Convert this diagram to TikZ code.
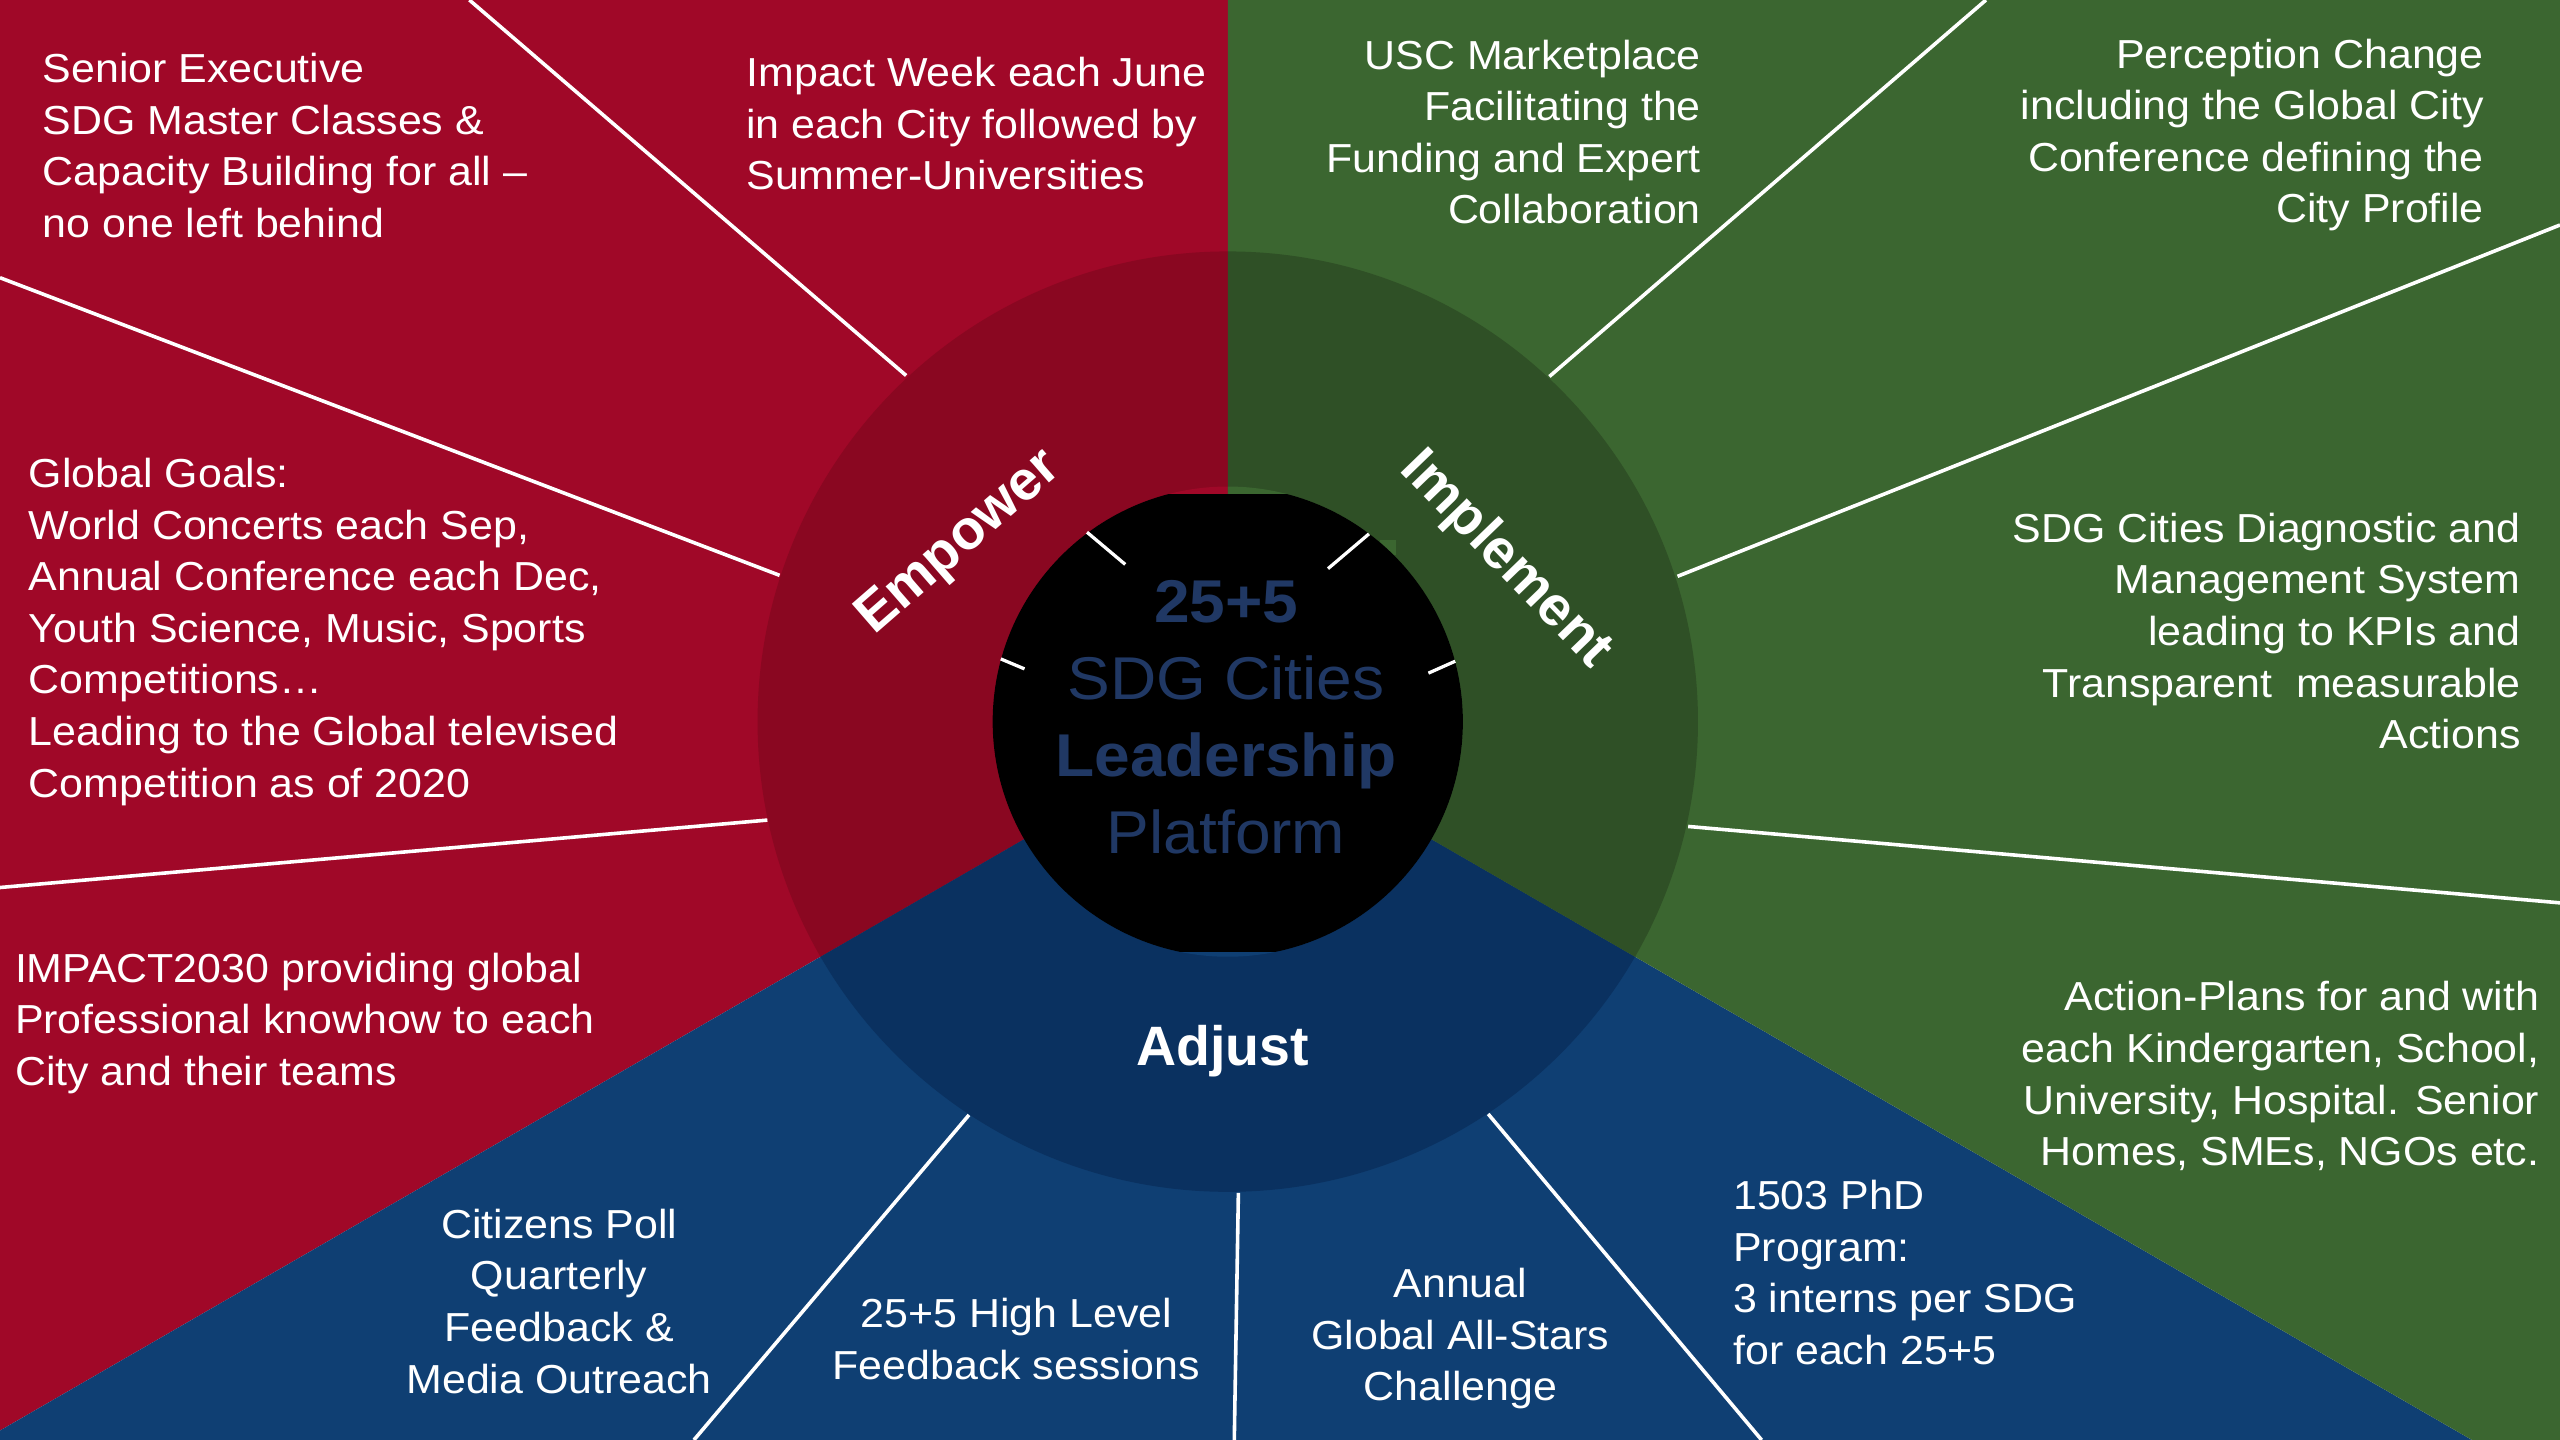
\documentclass[tikz,border=0pt]{standalone}
\usepackage{fontspec}
\setmainfont{Liberation Sans}
\newfontfamily\bodyfont[FakeStretch=1.06]{Liberation Sans}
\definecolor{redbg}{HTML}{A00828}
\definecolor{redring}{HTML}{8A0721}
\definecolor{greenbg}{HTML}{3B6630}
\definecolor{greenring}{HTML}{2F5026}
\definecolor{bluebg}{HTML}{0F3F73}
\definecolor{bluering}{HTML}{0A3160}
\definecolor{ctrblue}{HTML}{203864}
\tikzset{
  bodytext/.style={text=white, inner sep=0pt, font=\bodyfont\fontsize{24.8}{31.6}\selectfont},
  ringlabel/.style={text=white, inner sep=0pt, font=\fontsize{34}{40}\selectfont\bfseries},
  divider/.style={draw=white, line width=2.2pt},
  tickline/.style={draw=white, line width=2pt},
  ctrtext/.style={text=ctrblue, inner sep=0pt, align=center, font=\bodyfont\fontsize{37}{47.2}\selectfont}
}
\begin{document}
\begin{tikzpicture}[x=1pt,y=-1pt]
\useasboundingbox (0,0) rectangle (1568,882);
\coordinate (C) at (752,442);
% background sectors
\fill[redbg] (C) -- (752,0) -- (0,0) -- (0,876.2) -- cycle;
\fill[bluebg] (C) -- (0,876.2) -- (0,882) -- (1514.1,882) -- cycle;
\fill[greenbg] (C) -- (752,0) -- (1568,0) -- (1568,882) -- (1514.1,882) -- cycle;
% ring
\begin{scope}
  \clip (C) -- (752,0) -- (0,0) -- (0,876.2) -- cycle;
  \fill[redring] (C) circle[radius=288];
  \fill[redbg] (C) circle[radius=144];
\end{scope}
\begin{scope}
  \clip (C) -- (0,876.2) -- (0,882) -- (1514.1,882) -- cycle;
  \fill[bluering] (C) circle[radius=288];
  \fill[bluebg] (C) circle[radius=144];
\end{scope}
\begin{scope}
  \clip (C) -- (752,0) -- (1568,0) -- (1568,882) -- (1514.1,882) -- cycle;
  \fill[greenring] (C) circle[radius=288];
  \fill[greenbg] (C) circle[radius=144];
\end{scope}
\fill[greenbg] (845.5,331) rectangle (855,340);
% black centre
\begin{scope}
  \clip (590,303) rectangle (914,583);
  \fill[black] (C) circle[radius=144];
\end{scope}
% tick marks
\coordinate (t1a) at (665.8,326); \coordinate (t1b) at (689.2,345.7);
\coordinate (t2a) at (838.5,327); \coordinate (t2b) at (813.4,348.3);
\coordinate (t3a) at (613,403.6); \coordinate (t3b) at (627.5,409.7);
\coordinate (t4a) at (891.3,405); \coordinate (t4b) at (874.9,412.3);
\draw[tickline] (t1a) -- (t1b);
\draw[tickline] (t2a) -- (t2b);
\draw[tickline] (t3a) -- (t3b);
\draw[tickline] (t4a) -- (t4b);
% dividers
\coordinate (d1a) at (555,230);    \coordinate (d1b) at (287.5,0);
\coordinate (d2a) at (477.5,352.4); \coordinate (d2b) at (0,170.1);
\coordinate (d3a) at (470,502.3);  \coordinate (d3b) at (0,543.6);
\coordinate (d4a) at (593.5,682.9); \coordinate (d4b) at (425,882);
\coordinate (d5a) at (758.5,730.6); \coordinate (d5b) at (756,882);
\coordinate (d6a) at (911.5,682.3); \coordinate (d6b) at (1079,882);
\coordinate (d7a) at (1034,506.2); \coordinate (d7b) at (1568,553);
\coordinate (d8a) at (1027.5,353); \coordinate (d8b) at (1568,137.8);
\coordinate (d9a) at (949,230.6);  \coordinate (d9b) at (1216.4,0);
\foreach \i in {1,...,9} { \draw[divider] (d\i a) -- (d\i b); }
% centre text
\node[ctrtext, anchor=north] (ctr) at (751,355) {\textbf{25+5}\\SDG Cities\\\textbf{Leadership}\\Platform};
% ring labels
\node[ringlabel, rotate=41] (emp) at (588,333) {Empower};
\node[ringlabel, rotate=-46] (imp) at (922,343) {Implement};
\node[ringlabel, anchor=base] (adj) at (749,652.5) {Adjust};
% body texts
\node[bodytext, align=left, anchor=north west] (b1) at (26,32.5) {Senior Executive\\SDG Master Classes \&\\Capacity Building for all –\\no one left behind};
\node[bodytext, align=left, anchor=north west] (b2) at (457,35) {Impact Week each June\\in each City followed by\\Summer-Universities};
\node[bodytext, align=right, anchor=north east] (b3) at (1042,24.2) {USC Marketplace\\Facilitating the\\Funding and Expert\\Collaboration};
\node[bodytext, align=right, anchor=north east] (b4) at (1521.5,23.5) {Perception Change\\including the Global City\\Conference defining the\\City Profile};
\node[bodytext, align=left, anchor=north west] (b5) at (17.5,280.5) {Global Goals:\\World Concerts each Sep,\\Annual Conference each Dec,\\Youth Science, Music, Sports\\Competitions…\\Leading to the Global televised\\Competition as of 2020};
\node[bodytext, align=right, anchor=north east] (b6) at (1544,314) {SDG Cities Diagnostic and\\Management System\\leading to KPIs and\\Transparent~ measurable\\Actions};
\node[bodytext, align=left, anchor=north west] (b7) at (9,583.5) {IMPACT2030 providing global\\Professional knowhow to each\\City and their teams};
\node[bodytext, align=right, anchor=north east] (b8) at (1555.5,601) {Action-Plans for and with\\each Kindergarten, School,\\University, Hospital. Senior\\Homes, SMEs, NGOs etc.};
\node[bodytext, align=center, anchor=north] (b9) at (342.5,740.3) {Citizens Poll\\Quarterly\\Feedback \&\\Media Outreach};
\node[bodytext, align=center, anchor=north] (b10) at (622.5,794.9) {25+5 High Level\\Feedback sessions};
\node[bodytext, align=center, anchor=north] (b11) at (894.5,776.5) {Annual\\Global All-Stars\\Challenge};
\node[bodytext, align=left, anchor=north west] (b12) at (1061.4,722.8) {1503 PhD\\Program:\\3 interns per SDG\\for each 25+5};
\end{tikzpicture}
\end{document}
